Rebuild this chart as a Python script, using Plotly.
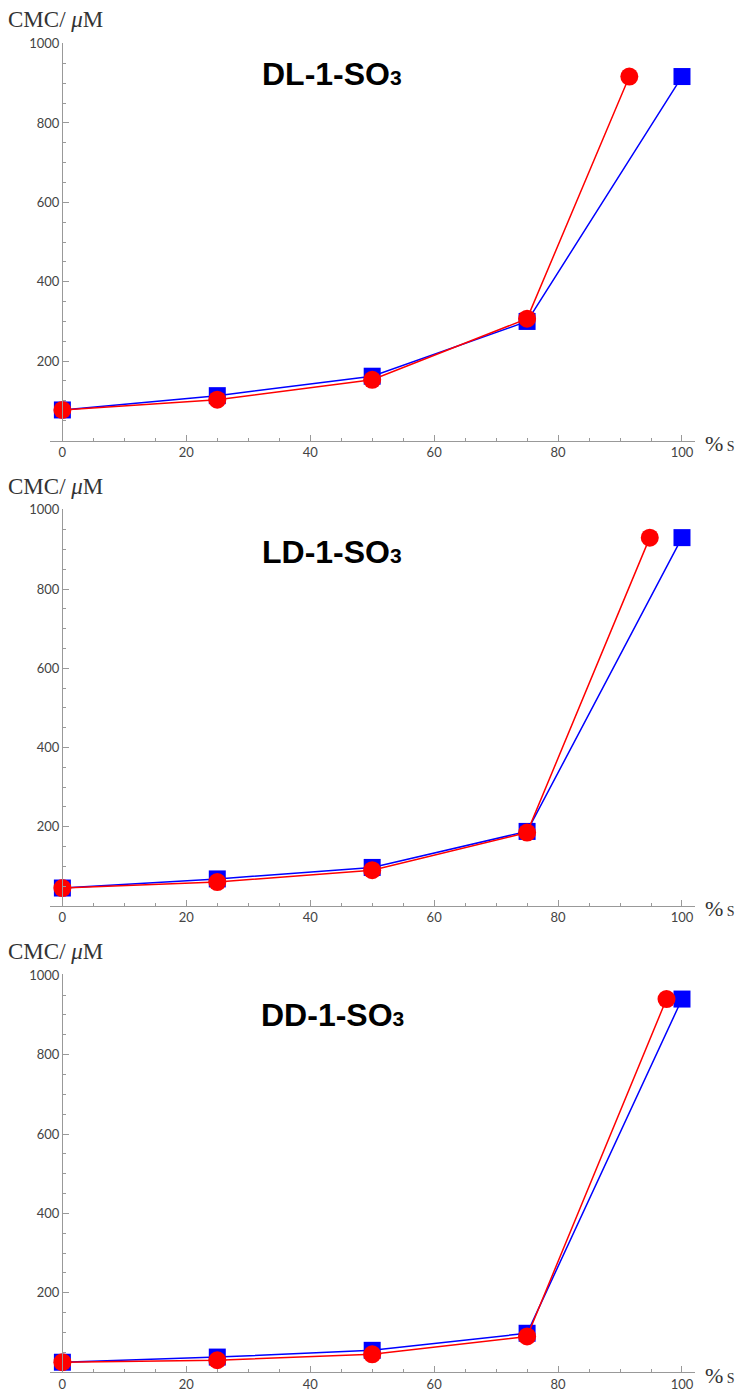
import plotly.graph_objects as go

W, H = 738, 1400

# Data
titles = ["DL-1-SO<span style='font-size:21px'>3</span>",
          "LD-1-SO<span style='font-size:21px'>3</span>",
          "DD-1-SO<span style='font-size:21px'>3</span>"]
blue_x = [[0, 25, 50, 75, 100], [0, 25, 50, 75, 100], [0, 25, 50, 75, 100]]
blue_y = [[77, 113, 162, 300, 917], [45, 68, 97, 188, 930], [25, 38, 55, 98, 940]]
red_x = [[0, 25, 50, 75, 91.5], [0, 25, 50, 75, 94.8], [0, 25, 50, 75, 97.5]]
red_y = [[77, 103, 153, 307, 917], [45, 60, 90, 185, 930], [25, 30, 45, 90, 940]]
x_ticks = [0, 20, 40, 60, 80, 100]
y_ticks = [200, 400, 600, 800, 1000]

# layout in pixels: (top of 1000, y of zero)
panels_px = [(35, 435), (504, 903), (972, 1372)]
title_y_px = [66, 547, 1013]
x_left_px, x_right_px = 50, 695
yaxis_px = 62

fig = go.Figure()
layout = dict(width=W, height=H, margin=dict(l=0, r=0, t=0, b=0),
              plot_bgcolor="white", paper_bgcolor="white", showlegend=False)
annotations = []
tickfont = dict(family="Lato, Open Sans, sans-serif", size=13, color="#444")

for i in range(3):
    s = "" if i == 0 else str(i + 1)
    top, bot = panels_px[i]
    xa = "x" + s
    ya = "y" + s
    fig.add_trace(go.Scatter(x=blue_x[i], y=blue_y[i], mode="lines+markers",
                             line=dict(color="#0000FF", width=1.5),
                             marker=dict(symbol="square", size=17, color="#0000FF"),
                             xaxis=xa, yaxis=ya, cliponaxis=False))
    fig.add_trace(go.Scatter(x=red_x[i], y=red_y[i], mode="lines+markers",
                             line=dict(color="#FF0000", width=1.5),
                             marker=dict(symbol="circle", size=18, color="#FF0000"),
                             xaxis=xa, yaxis=ya, cliponaxis=False))
    layout["xaxis" + s] = dict(
        domain=[x_left_px / W, x_right_px / W], range=[-2, 102.1],
        anchor=ya, showgrid=False, zeroline=False, showline=True,
        linecolor="#999", linewidth=1, ticks="inside", ticklen=6, tickcolor="#999",
        tickvals=x_ticks, tickfont=tickfont,
        minor=dict(ticks="inside", ticklen=3, dtick=5, tick0=0, tickcolor="#999", showgrid=False))
    layout["yaxis" + s] = dict(
        domain=[1 - bot / H, 1 - top / H], range=[0, 1002],
        anchor="free", position=yaxis_px / W, showgrid=False, zeroline=False,
        showline=True, linecolor="#999", linewidth=1, ticks="inside", ticklen=6,
        tickcolor="#999", tickvals=y_ticks, tickfont=tickfont,
        minor=dict(ticks="inside", ticklen=3, dtick=50, tick0=0, tickcolor="#999", showgrid=False))
    # y label
    annotations.append(dict(text="CMC/ <i>μ</i>M", x=6 / W, y=1 - (top - 23) / H,
                            xref="paper", yref="paper", xanchor="left", yanchor="middle",
                            showarrow=False,
                            font=dict(family="Liberation Serif, serif", size=23, color="#333")))
    # x label
    annotations.append(dict(text="<span style='font-size:22px'>%</span> S", x=736 / W, y=1 - (bot + 3) / H,
                            xref="paper", yref="paper", xanchor="right", yanchor="middle",
                            showarrow=False, borderpad=0,
                            font=dict(family="Liberation Serif, serif", size=14, color="#333")))
    # panel title
    annotations.append(dict(text="<b>" + titles[i] + "</b>", x=332 / W, y=1 - title_y_px[i] / H,
                            xref="paper", yref="paper", xanchor="center", yanchor="middle",
                            showarrow=False,
                            font=dict(family="Liberation Sans, Arial, sans-serif", size=32, color="black")))

layout["annotations"] = annotations
fig.update_layout(**layout)
fig.write_html("out.html")
